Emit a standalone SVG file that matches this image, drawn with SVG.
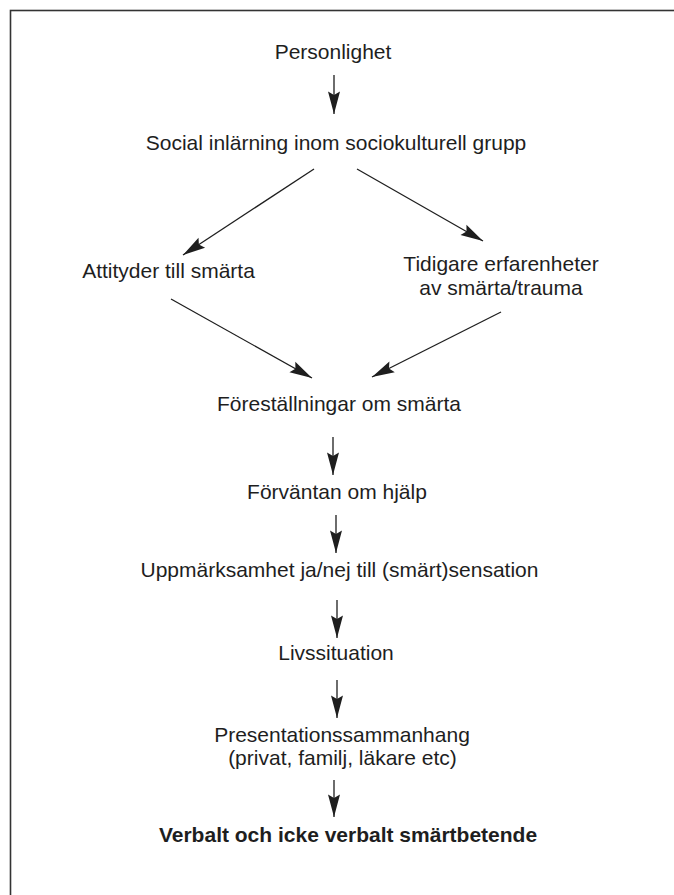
<svg xmlns="http://www.w3.org/2000/svg" width="674" height="895" viewBox="0 0 674 895">
<style>
text{font-family:"Liberation Sans",Arial,sans-serif;font-size:21px;fill:#1e1e1e;text-anchor:middle}
.b{font-weight:bold}
.c line{stroke:#1e1e1e;stroke-width:1.3;marker-end:url(#ah)}
</style>
<defs>
<marker id="ah" viewBox="-23 -7 24 14" refX="0" refY="0" markerWidth="24" markerHeight="14" markerUnits="userSpaceOnUse" orient="auto">
<path d="M0,0 L-22.5,-6 L-19,0 L-22.5,6 Z" fill="#1e1e1e"/>
</marker>
</defs>
<rect x="0" y="0" width="674" height="895" fill="#fff"/>
<rect x="10.5" y="10.5" width="700" height="900" fill="none" stroke="#333" stroke-width="1.6"/>
<g class="c" id="connectors">
<line x1="334" y1="75" x2="334" y2="114"/>
<line x1="314" y1="169" x2="183" y2="255"/>
<line x1="357" y1="169" x2="483" y2="241"/>
<line x1="171" y1="299" x2="312" y2="378"/>
<line x1="501" y1="312" x2="372" y2="377"/>
<line x1="333" y1="437" x2="333" y2="475"/>
<line x1="336" y1="515" x2="336" y2="553"/>
<line x1="337" y1="600" x2="337" y2="638"/>
<line x1="337" y1="680" x2="337" y2="718"/>
<line x1="334" y1="780" x2="334" y2="817"/>
</g>
<g id="n1"><text x="333" y="59">Personlighet</text></g>
<g id="n2"><text x="336" y="150">Social inlärning inom sociokulturell grupp</text></g>
<g id="n3"><text x="168.5" y="278">Attityder till smärta</text></g>
<g id="n4"><text x="501" y="271">Tidigare erfarenheter</text><text x="501" y="295">av smärta/trauma</text></g>
<g id="n5"><text x="339" y="411">Föreställningar om smärta</text></g>
<g id="n6"><text x="337" y="499">Förväntan om hjälp</text></g>
<g id="n7"><text x="339.5" y="577">Uppmärksamhet ja/nej till (smärt)sensation</text></g>
<g id="n8"><text x="336" y="660">Livssituation</text></g>
<g id="n9"><text x="342" y="742">Presentationssammanhang</text><text x="342.5" y="765">(privat, familj, läkare etc)</text></g>
<g id="n10"><text class="b" x="348" y="842">Verbalt och icke verbalt smärtbetende</text></g>
</svg>
